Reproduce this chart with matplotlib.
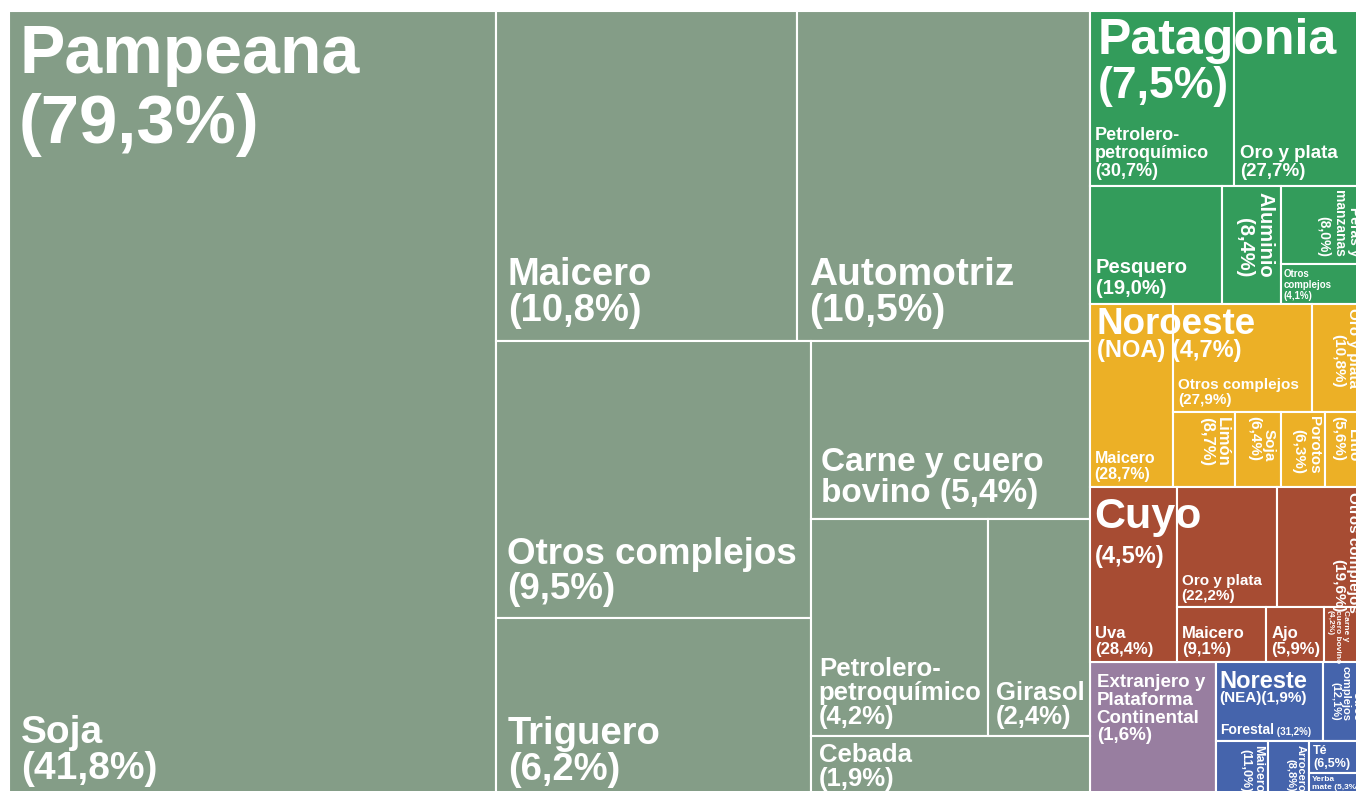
import matplotlib.pyplot as plt
from matplotlib.patches import Rectangle

plt.rcParams['font.family'] = ['Liberation Sans', 'DejaVu Sans']
plt.rcParams['font.weight'] = 'bold'

# Regiones (porcentaje del total exportado)
regions = ['Pampeana', 'Patagonia', 'Noroeste', 'Cuyo', 'Extranjero y\nPlataforma\nContinental', 'Noreste']
region_sub = ['', '', '(NOA) ', '', '', '(NEA)']
region_values = [79.3, 7.5, 4.7, 4.5, 1.6, 1.9]
region_colors = ['#849d87', '#339c5b', '#ecb026', '#a74c33', '#987ea0', '#4564ac']

# Complejos dentro de cada región (porcentaje de la región)
pampeana_names = ['Soja', 'Maicero', 'Automotriz', 'Otros complejos', 'Triguero',
                  'Carne y cuero\nbovino', 'Petrolero-\npetroquímico', 'Girasol', 'Cebada']
pampeana_values = [41.8, 10.8, 10.5, 9.5, 6.2, 5.4, 4.2, 2.4, 1.9]

patagonia_names = ['Petrolero-\npetroquímico', 'Oro y plata', 'Pesquero', 'Aluminio',
                   'Peras y\nmanzanas', 'Otros\ncomplejos']
patagonia_values = [30.7, 27.7, 19.0, 8.4, 8.0, 4.1]

noa_names = ['Maicero', 'Otros complejos', 'Oro y plata', 'Limón', 'Soja', 'Porotos', 'Litio']
noa_values = [28.7, 27.9, 10.8, 8.7, 6.4, 6.3, 5.6]

cuyo_names = ['Uva', 'Oro y plata', 'Otros complejos', 'Maicero', 'Ajo', 'Carne y\ncuero bovino']
cuyo_values = [28.4, 22.2, 19.6, 9.1, 5.9, 4.2]

nea_names = ['Forestal', 'Otros\ncomplejos', 'Maicero', 'Arrocero', 'Té', 'Yerba\nmate']
nea_values = [31.2, 12.1, 11.0, 8.8, 6.5, 5.3]

# how each block is cut: 'h' = side by side, 'v' = stacked
region_tree = ('h', [0, ('v', [1, 2, 3, ('h', [4, 5])])])
pampeana_tree = ('h', [0, ('v', [('h', [1, 2]),
                                 ('h', [('v', [3, 4]), ('v', [5, ('h', [6, 7]), 8])])])])
patagonia_tree = ('v', [('h', [0, 1]), ('h', [2, 3, ('v', [4, 5])])])
noa_tree = ('h', [0, ('v', [('h', [1, 2]), ('h', [3, 4, 5, 6])])])
cuyo_tree = ('h', [0, ('v', [('h', [1, 2]), ('h', [3, 4, 5])])])
nea_tree = ('v', [('h', [0, 1]), ('h', [2, 3, ('v', [4, 5])])])

# label styles per leaf: (fontsize, placement)
# bl = bottom-left, tl = top-left, rot = vertical from top-right, rotl = vertical from top-left
pampeana_style = [(28, 'bl'), (27.5, 'bl'), (28, 'bl'), (26.5, 'bl'), (27.5, 'bl'),
                  (24, 'bl'), (18.5, 'bl'), (18.5, 'bl'), (18.5, 'bl')]
patagonia_style = [(13, 'bl'), (13.5, 'bl'), (14.5, 'bl'), (14.5, 'rot'), (10, 'rot'), (7, 'bl')]
noa_style = [(11.5, 'bl'), (11, 'bl'), (11, 'rot'), (12, 'rot'), (11, 'rot'), (11, 'rot'), (11, 'rot')]
cuyo_style = [(12, 'bl'), (11, 'bl'), (11, 'rot'), (12, 'bl'), (12, 'bl'), (6, 'rotl')]
nea_style = [(10, 'bl'), (8, 'rot'), (9, 'rot'), (8, 'rot'), (9, 'tl'), (6, 'tl')]
# region titles: font sizes (name, percentage), padding (x, y) px, drop of 2nd line in points
region_font = [(49, 49.5), (36, 32), (26.5, 17), (31, 17), (13.5, 13.5), (17, 11)]
region_pad = [(10, 12), (8, 7), (7, 3), (5, 10), (7, 12), (4, 8)]
region_drop = [-4, -1.5, 1.5, -5.6, 0, 1.5]

# treemap box in pixels (the picture is cropped on the right and bottom)
X0, Y0, W, H = 9, 11, 1356, 788
DPI = 100


def weight(node, values):
    if isinstance(node, int):
        return values[node]
    return sum(weight(c, values) for c in node[1])


def slice_layout(node, values, x, y, w, h, out):
    if isinstance(node, int):
        out[node] = (x, y, w, h)
        return
    direction, children = node
    total = weight(node, values)
    for child in children:
        frac = weight(child, values) / total
        if direction == 'h':
            slice_layout(child, values, x, y, w * frac, h, out)
            x += w * frac
        else:
            slice_layout(child, values, x, y, w, h * frac, out)
            y += h * frac


def pct(v):
    return '(' + f'{v:.1f}'.replace('.', ',') + '%)'


def leaf_label(ax, rect, text, size, place):
    x, y, w, h = rect
    pad = max(3, 0.3 * size * DPI / 72)
    kw = dict(color='white', fontsize=size, fontweight='bold', zorder=5,
              linespacing=1.0 if size >= 17 else 1.1)
    if place == 'bl':
        return ax.text(x + pad, y + h - pad, text, ha='left', va='bottom', **kw)
    if place == 'tl':
        return ax.text(x + pad, y + pad, text, ha='left', va='top', **kw)
    if place == 'rotl':
        return ax.text(x + pad, y + pad, text, ha='left', va='top', rotation=270, **kw)
    return ax.text(x + w - pad, y + pad, text, ha='right', va='top', rotation=270, **kw)


fig = plt.figure(figsize=(13.56, 7.91), dpi=DPI)
ax = fig.add_axes([0, 0, 1, 1])
ax.set_xlim(0, 1356)
ax.set_ylim(791, 0)
ax.axis('off')

region_rects = {}
slice_layout(region_tree, region_values, X0, Y0, W, H, region_rects)

children = {
    0: (pampeana_names, pampeana_values, pampeana_tree, pampeana_style),
    1: (patagonia_names, patagonia_values, patagonia_tree, patagonia_style),
    2: (noa_names, noa_values, noa_tree, noa_style),
    3: (cuyo_names, cuyo_values, cuyo_tree, cuyo_style),
    5: (nea_names, nea_values, nea_tree, nea_style),
}

for i, name in enumerate(regions):
    rx, ry, rw, rh = region_rects[i]
    ax.add_patch(Rectangle((rx, ry), rw, rh, facecolor=region_colors[i],
                           edgecolor='white', linewidth=1.5, zorder=1))
    if i in children:
        names, values, tree, style = children[i]
        rects = {}
        slice_layout(tree, values, rx, ry, rw, rh, rects)
        for j, n in enumerate(names):
            ax.add_patch(Rectangle(rects[j][:2], rects[j][2], rects[j][3],
                                   facecolor=region_colors[i], edgecolor='white',
                                   linewidth=1.5, zorder=2))
            size, place = style[j]
            if n == 'Forestal':
                t = leaf_label(ax, rects[j], n, size, place)
                ax.annotate(' ' + pct(values[j]), xy=(1, 0), xycoords=t, ha='left', va='bottom',
                            color='white', fontsize=7, fontweight='bold', zorder=5)
                continue
            sep = ' ' if n in ('Carne y cuero\nbovino', 'Yerba\nmate') else '\n'
            leaf_label(ax, rects[j], n + sep + pct(values[j]), size, place)

    # region title at top-left
    fs_name, fs_pct = region_font[i]
    px, py = region_pad[i]
    if i == 4:
        ax.text(rx + px, ry + py, name + '\n' + pct(region_values[i]), color='white',
                fontsize=fs_name, fontweight='bold', ha='left', va='top', linespacing=1.05, zorder=6)
        continue
    t = ax.text(rx + px, ry + py, name, color='white', fontsize=fs_name,
                fontweight='bold', ha='left', va='top', zorder=6)
    ax.annotate(region_sub[i] + pct(region_values[i]), xy=(0, 0), xycoords=t,
                xytext=(0, region_drop[i]), textcoords='offset points',
                ha='left', va='top', color='white', fontsize=fs_pct, fontweight='bold', zorder=6)

fig.savefig('out.png', dpi=DPI, facecolor='white')
